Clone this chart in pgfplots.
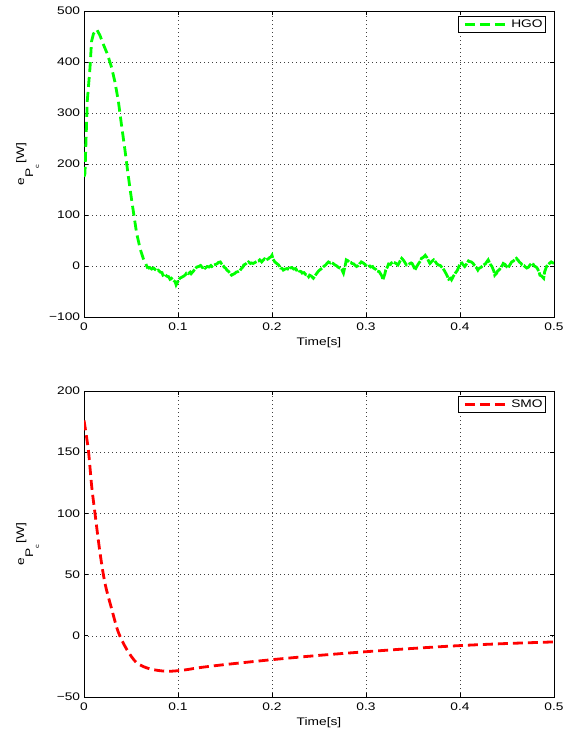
\documentclass[border=0pt]{standalone}
\usepackage{fontspec}
\setmainfont[FakeStretch=1.25]{Liberation Sans}
\usepackage{pgfplots}
\pgfplotsset{compat=1.18}
\begin{document}
\fontsize{11}{13}\selectfont
\begin{tikzpicture}
\path[use as bounding box] (0,0) rectangle (571pt,734pt);
\pgfplotsset{
  myax/.style={
    scale only axis, width=470pt, height=306pt,
    anchor=south west,
    xmin=0, xmax=0.5,
    xtick={0,0.1,0.2,0.3,0.4,0.5},
    xticklabels={0,0.1,0.2,0.3,0.4,0.5},
    tick align=inside, major tick length=4pt,
    axis line style={line width=0.8pt},
    every tick/.style={black, line width=0.6pt},
    grid=major,
    major grid style={black!75, line width=0.5pt, dash pattern=on 0.7pt off 3.3pt},
    xlabel={Time[s]},
    ylabel={e\raisebox{-9pt}{P\raisebox{-6pt}{\fontsize{6}{7}\selectfont c}}\,[W]},
    xlabel style={at={(axis description cs:0.5,0)}, anchor=center, yshift=-25.5pt},
    ylabel style={at={(axis description cs:-0.095,0.5)}, anchor=south, inner sep=0pt},
    xticklabel style={yshift=-2pt},
    ticklabel style={font=\fontsize{11}{13}\selectfont},
    label style={font=\fontsize{11}{13}\selectfont},
    legend cell align=left,
    legend style={at={(1,1)}, anchor=north east, xshift=-8pt, yshift=-5pt,
      draw=black, line width=0.8pt, inner xsep=1pt, inner ysep=1.5pt,
      font=\fontsize{11}{13}\selectfont},
    legend image code/.code={\path (-4pt,0pt); \draw[#1] (0pt,0pt) -- (43pt,0pt);},
  }
}
\begin{axis}[myax, at={(84pt,417pt)},
  ymin=-100, ymax=500,
  ytick={-100,0,100,200,300,400,500},
  yticklabels={−100,0,100,200,300,400,500}]
\addplot[color={rgb,255:red,0;green,255;blue,0}, line width=2.8pt, dash pattern=on 10pt off 5pt] coordinates {
(0,175) (0.001,181) (0.0035,324) (0.0064,389) (0.008,440) (0.010,455) (0.0135,464) (0.017,452) (0.0205,435) (0.025,415) (0.0294,389) (0.033,360) (0.0365,324) (0.040,275) (0.0436,227) (0.047,178) (0.0507,129) (0.056,64) (0.060,32) (0.063,15) (0.068,-5)
};
\addlegendentry{HGO}
\addplot[forget plot, color={rgb,255:red,0;green,255;blue,0}, line width=2.8pt, dash pattern=on 10pt off 1.5pt] coordinates {
(0.068,-5) (0.070,-3) (0.072,-6) (0.074,-4) (0.077,-9) (0.079,-8) (0.081,-12) (0.083,-13) (0.084,-18) (0.086,-16) (0.088,-20) (0.090,-21) (0.0915,-26) (0.093,-24) (0.095,-28) (0.097,-31) (0.098,-37) (0.100,-30) (0.102,-24) (0.104,-22) (0.106,-20) (0.108,-17) (0.109,-14) (0.111,-15) (0.113,-12) (0.114,-15) (0.116,-11) (0.118,-6) (0.12,-2) (0.122,-1) (0.124,1) (0.126,-3) (0.128,-2) (0.129,-4) (0.131,-1) (0.133,-2) (0.135,1) (0.136,-1) (0.138,2) (0.14,3) (0.142,5) (0.143,7) (0.145,8) (0.146,5) (0.148,1) (0.149,-2) (0.151,-5) (0.152,-8) (0.154,-11) (0.155,-14) (0.157,-18) (0.159,-16) (0.160,-15) (0.162,-12) (0.164,-11) (0.166,-9) (0.167,-6) (0.169,-2) (0.170,2) (0.172,4) (0.175,8) (0.177,5) (0.178,6) (0.180,5) (0.182,7) (0.184,9) (0.186,10) (0.187,12) (0.189,8) (0.190,10) (0.192,14) (0.194,12) (0.196,14) (0.197,16) (0.199,18) (0.200,21) (0.201,14) (0.203,8) (0.205,5) (0.207,2) (0.209,-4) (0.211,-5) (0.212,-8) (0.214,-6) (0.216,-5) (0.218,-7) (0.219,-4) (0.221,-3) (0.223,-6) (0.225,-5) (0.226,-8) (0.228,-7) (0.229,-10) (0.231,-11) (0.232,-14) (0.234,-13) (0.236,-17) (0.238,-18) (0.239,-21) (0.240,-18) (0.242,-20) (0.244,-24) (0.246,-19) (0.247,-16) (0.249,-11) (0.250,-9) (0.252,-6) (0.254,-3) (0.255,-1) (0.257,2) (0.258,4) (0.26,8) (0.262,6) (0.263,7) (0.265,5) (0.267,2) (0.269,0) (0.270,-2) (0.272,-4) (0.274,-6) (0.276,-14) (0.278,2) (0.279,12) (0.281,10) (0.282,8) (0.284,7) (0.285,5) (0.287,4) (0.288,2) (0.29,-1) (0.292,1) (0.293,4) (0.295,8) (0.297,6) (0.299,3) (0.300,1) (0.302,-1) (0.304,0) (0.305,-2) (0.307,-1) (0.308,-4) (0.310,-6) (0.312,-10) (0.314,-11) (0.315,-14) (0.317,-20) (0.318,-27) (0.320,-16) (0.321,-8) (0.323,-1) (0.324,4) (0.326,3) (0.327,6) (0.329,8) (0.331,6) (0.332,5) (0.334,2) (0.335,5) (0.336,9) (0.338,15) (0.340,11) (0.341,8) (0.343,2) (0.345,3) (0.346,4) (0.348,6) (0.349,5) (0.351,-2) (0.352,-8) (0.354,-1) (0.356,5) (0.358,10) (0.359,15) (0.361,17) (0.363,21) (0.365,16) (0.366,12) (0.368,5) (0.370,9) (0.372,12) (0.374,8) (0.375,5) (0.377,2) (0.379,1) (0.38,-1) (0.382,-5) (0.384,-11) (0.386,-18) (0.388,-26) (0.390,-24) (0.391,-27) (0.393,-20) (0.395,-14) (0.397,-9) (0.398,-5) (0.40,5) (0.402,6) (0.403,3) (0.405,-1) (0.407,4) (0.409,10) (0.410,9) (0.412,8) (0.414,5) (0.415,2) (0.417,-2) (0.419,-8) (0.420,-5) (0.422,-3) (0.424,0) (0.425,2) (0.427,4) (0.428,7) (0.430,12) (0.431,8) (0.432,4) (0.434,-1) (0.436,-10) (0.437,-18) (0.439,-14) (0.440,-10) (0.442,-7) (0.443,-4) (0.445,1) (0.446,5) (0.448,3) (0.449,0) (0.451,-4) (0.453,2) (0.455,8) (0.457,10) (0.458,12) (0.46,15) (0.462,11) (0.463,8) (0.465,5) (0.466,2) (0.468,1) (0.469,-1) (0.471,-4) (0.473,-2) (0.474,1) (0.476,5) (0.478,3) (0.479,0) (0.481,-2) (0.482,-4) (0.484,-11) (0.485,-18) (0.487,-20) (0.489,-24) (0.490,-12) (0.492,-1) (0.494,2) (0.495,5) (0.497,8) (0.5,5)
};
\end{axis}
\begin{axis}[myax, at={(84pt,37pt)},
  ymin=-50, ymax=200,
  ytick={-50,0,50,100,150,200},
  yticklabels={−50,0,50,100,150,200}]
\addplot[color={rgb,255:red,255;green,0;blue,0}, line width=2.8pt, dash pattern=on 10pt off 5pt, smooth] coordinates {
(0,176) (0.0046,152) (0.0082,122) (0.0117,100) (0.017,68) (0.0223,43) (0.0294,22) (0.0365,3) (0.0454,-11) (0.056,-22) (0.070,-27) (0.088,-29) (0.106,-28) (0.123,-26) (0.15,-23.5) (0.2,-19.5) (0.25,-16) (0.3,-13) (0.35,-10.3) (0.4,-8) (0.45,-6.3) (0.5,-5)
};
\addlegendentry{SMO}
\end{axis}
\end{tikzpicture}
\end{document}
